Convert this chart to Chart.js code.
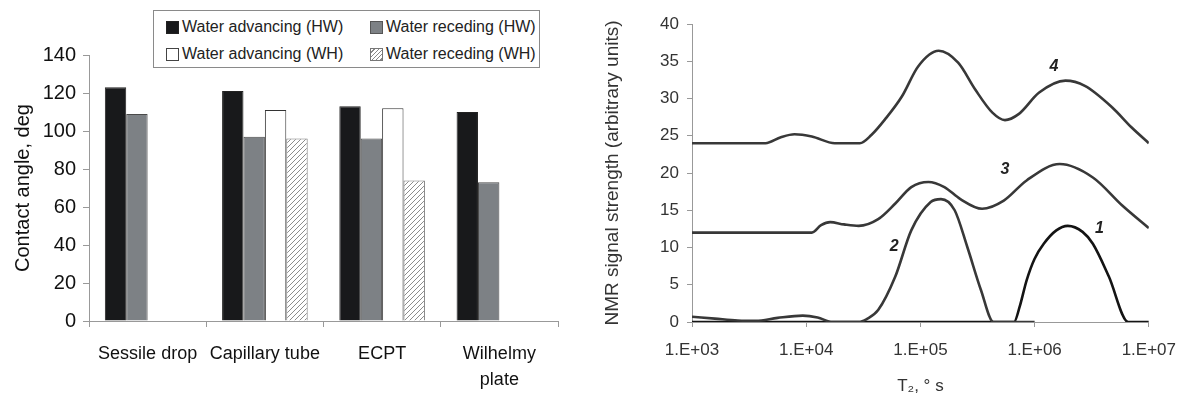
<!DOCTYPE html>
<html><head><meta charset="utf-8">
<script src="https://cdn.jsdelivr.net/npm/chart.js@4/dist/chart.umd.min.js"></script>
<style>
html,body{margin:0;padding:0;background:#fff;}
body{width:1189px;height:400px;position:relative;overflow:hidden;font-family:'Liberation Sans',Arial,sans-serif;}
#c1wrap{position:absolute;left:0;top:0;width:600px;height:400px;}
#c2wrap{position:absolute;left:600px;top:0;width:589px;height:400px;}
#legend{position:absolute;left:153px;top:10px;width:387px;height:58px;border:1px solid #8a8a8a;background:#fff;box-sizing:border-box;}
.li{position:absolute;height:20px;display:flex;align-items:center;font-size:16px;color:#222;white-space:nowrap;}
.sw{width:13px;height:13px;box-sizing:border-box;border:1px solid #333;margin-right:3px;}
</style></head>
<body>
<div id="c1wrap"><canvas id="c1" width="600" height="400"></canvas></div>
<div id="c2wrap"><canvas id="c2" width="589" height="400"></canvas></div>
<div id="legend"></div>
<script>
// ---------- Left chart data ----------
const categories = ['Sessile drop', 'Capillary tube', 'ECPT', ['Wilhelmy', 'plate']];
const seriesNames = ['Water advancing (HW)', 'Water receding (HW)', 'Water advancing (WH)', 'Water receding (WH)'];
const advHW = [123, 121, 113, 110];
const recHW = [109, 97, 96, 73];
const advWH = [null, 111, 112, null];
const recWH = [null, 96, 74, null];

// ---------- Right chart data (T2 in s, signal) ----------
const t1 = [1000, 660000, 741000, 851000, 1000000, 1202000, 1549000, 1950000, 2630000, 3236000, 4467000, 6607000, 10000000];
const s1 = [0, 0, 2.1, 5.6, 8.5, 10.5, 12.3, 12.9, 12.1, 10.5, 6.1, 0, 0];
const t2 = [1000, 1585, 2512, 3630, 5623, 9333, 12590, 16980, 28840, 33900, 42660, 60260, 83180, 123000, 151400, 199500, 257000, 338800, 436500, 1000000];
const s2 = [0.7, 0.45, 0.2, 0.15, 0.55, 0.85, 0.6, 0, 0, 0.4, 1.6, 6.1, 12.3, 16.1, 16.5, 15.0, 10.1, 4.3, 0, 0];
const t3 = [1000, 11200, 13500, 16200, 21400, 28800, 42700, 60300, 83200, 117500, 162200, 223900, 346700, 537000, 851000, 1660000, 3236000, 5888000, 10000000];
const s3 = [12, 12, 13.0, 13.4, 13.1, 12.9, 13.8, 15.9, 18.1, 18.8, 18.1, 16.5, 15.2, 16.3, 19.0, 21.2, 19.4, 15.6, 12.6];
const t4 = [1000, 4400, 6000, 7900, 11200, 17800, 29500, 37200, 49000, 69000, 95500, 144500, 214000, 302000, 427000, 550000, 724000, 1096000, 1862000, 2754000, 4786000, 7079000, 10000000];
const s4 = [24, 24, 24.8, 25.2, 24.9, 24, 24, 25.1, 27.2, 30.3, 34.3, 36.4, 34.8, 31.2, 28.1, 27.1, 27.9, 30.8, 32.4, 31.7, 28.8, 26.1, 24];
const xTickValues = [1000, 10000, 100000, 1000000, 10000000];
const xTickLabels = ['1.E+03', '1.E+04', '1.E+05', '1.E+06', '1.E+07'];
const curveNames = ['1', '2', '3', '4'];
const curveLabelT = [3700000, 59000, 550000, 1480000];
const curveLabelV = [12.5, 10.1, 20.4, 34.3];

const F = "'Liberation Sans', Arial, sans-serif";

// hatch pattern
function makeHatch(){
  const c = document.createElement('canvas'); c.width = 5; c.height = 5;
  const g = c.getContext('2d');
  g.fillStyle = '#fff'; g.fillRect(0,0,5,5);
  g.strokeStyle = '#8c8c8c'; g.lineWidth = 1;
  g.beginPath();
  g.moveTo(-1,6); g.lineTo(6,-1);
  g.moveTo(-1,1); g.lineTo(1,-1);
  g.moveTo(4,6); g.lineTo(6,4);
  g.stroke();
  return g.createPattern(c, 'repeat');
}
const hatch = makeHatch();

// legend (HTML)
const swStyles = [
  'background:#18191b;border-color:#222;',
  'background:#7d8185;border-color:#555;',
  'background:#fff;border-color:#444;',
  'background:repeating-linear-gradient(135deg,#fff 0 2px,#888 2px 3px);border-color:#777;'
];
const legPos = [[12,6],[216,6],[12,33],[216,33]];
const legEl = document.getElementById('legend');
seriesNames.forEach((n,i)=>{
  const d = document.createElement('div'); d.className='li';
  d.style.left = legPos[i][0]+'px'; d.style.top = legPos[i][1]+'px';
  d.innerHTML = '<span class="sw" style="'+swStyles[i]+'"></span><span></span>';
  d.lastChild.textContent = n;
  legEl.appendChild(d);
});

new Chart(document.getElementById('c1'), {
  type: 'bar',
  data: { labels: categories, datasets: [
    {label: seriesNames[0], data: advHW, backgroundColor: '#18191b', borderColor: '#222', borderWidth: 1},
    {label: seriesNames[1], data: recHW, backgroundColor: '#7d8185', borderColor: '#4a4a4a', borderWidth: 1},
    {label: seriesNames[2], data: advWH, backgroundColor: '#ffffff', borderColor: '#333', borderWidth: 1},
    {label: seriesNames[3], data: recWH, backgroundColor: hatch, borderColor: '#777', borderWidth: 1}
  ]},
  options: {
    responsive: false, animation: false,
    categoryPercentage: 0.73, barPercentage: 1,
    layout: {padding: {top: 55, right: 42, left: 0, bottom: 0}},
    plugins: {legend: {display: false}, tooltip: {enabled: false}},
    scales: {
      x: {
        grid: {display: true, drawOnChartArea: false, offset: true, tickLength: 6, color: '#999'},
        border: {color: '#999'},
        ticks: {color: '#111', font: {size: 18, family: F, lineHeight: 1.45}, padding: 14, maxRotation: 0, autoSkip: false},
        afterFit(s){ s.height = 79; }
      },
      y: {
        min: 0, max: 140,
        ticks: {stepSize: 20, color: '#111', font: {size: 20, family: F}, padding: 7},
        grid: {drawOnChartArea: false, tickLength: 6, color: '#999'},
        border: {color: '#999'},
        title: {display: true, text: 'Contact angle, deg', color: '#111', font: {size: 20, family: F}, padding: {top: 11, bottom: 0}},
        afterFit(s){ s.width = 89; }
      }
    }
  }
});

const mk = (ts, vs) => ts.map((t, i) => ({x: t, y: vs[i]}));
const curveLabelPlugin = {
  id: 'curveLabels',
  afterDatasetsDraw(chart){
    const {ctx, scales: {x, y}} = chart;
    ctx.save();
    ctx.font = 'italic bold 16px ' + F;
    ctx.fillStyle = '#222';
    ctx.textAlign = 'center'; ctx.textBaseline = 'middle';
    curveNames.forEach((n, i) => {
      ctx.fillText(n, x.getPixelForValue(curveLabelT[i]), y.getPixelForValue(curveLabelV[i]));
    });
    ctx.restore();
  }
};

new Chart(document.getElementById('c2'), {
  type: 'line',
  data: { datasets: [
    {label: '4', data: mk(t4, s4), borderColor: '#383838'},
    {label: '3', data: mk(t3, s3), borderColor: '#383838'},
    {label: '2', data: mk(t2, s2), borderColor: '#383838'},
    {label: '1', data: mk(t1, s1), borderColor: '#141414'}
  ]},
  options: {
    responsive: false, animation: false,
    layout: {padding: {top: 24, right: 35, left: 0, bottom: 0}},
    elements: {point: {radius: 0}, line: {borderWidth: 2.6, cubicInterpolationMode: 'monotone', fill: false}},
    plugins: {legend: {display: false}, tooltip: {enabled: false}},
    scales: {
      x: {
        type: 'logarithmic', min: 1000, max: 10000000,
        afterBuildTicks(s){ s.ticks = xTickValues.map(v => ({value: v})); },
        ticks: {callback: (v, i) => xTickLabels[i], color: '#333', font: {size: 17, family: F}, padding: 13, maxRotation: 0, autoSkip: false},
        grid: {drawOnChartArea: false, tickLength: 5, color: '#999'},
        border: {color: '#999'},
        title: {display: true, text: 'T₂, ° s', color: '#333', font: {size: 17, family: F}, padding: {top: 0, bottom: 3}},
        afterFit(s){ s.height = 78; }
      },
      y: {
        min: 0, max: 40,
        ticks: {stepSize: 5, color: '#333', font: {size: 17, family: F}, padding: 8},
        grid: {drawOnChartArea: false, tickLength: 5, color: '#999'},
        border: {color: '#999'},
        title: {display: true, text: 'NMR signal strength (arbitrary units)', color: '#333', font: {size: 19, family: F}, padding: {top: 1, bottom: 0}},
        afterFit(s){ s.width = 92; }
      }
    }
  },
  plugins: [curveLabelPlugin]
});
</script>
</body></html>
